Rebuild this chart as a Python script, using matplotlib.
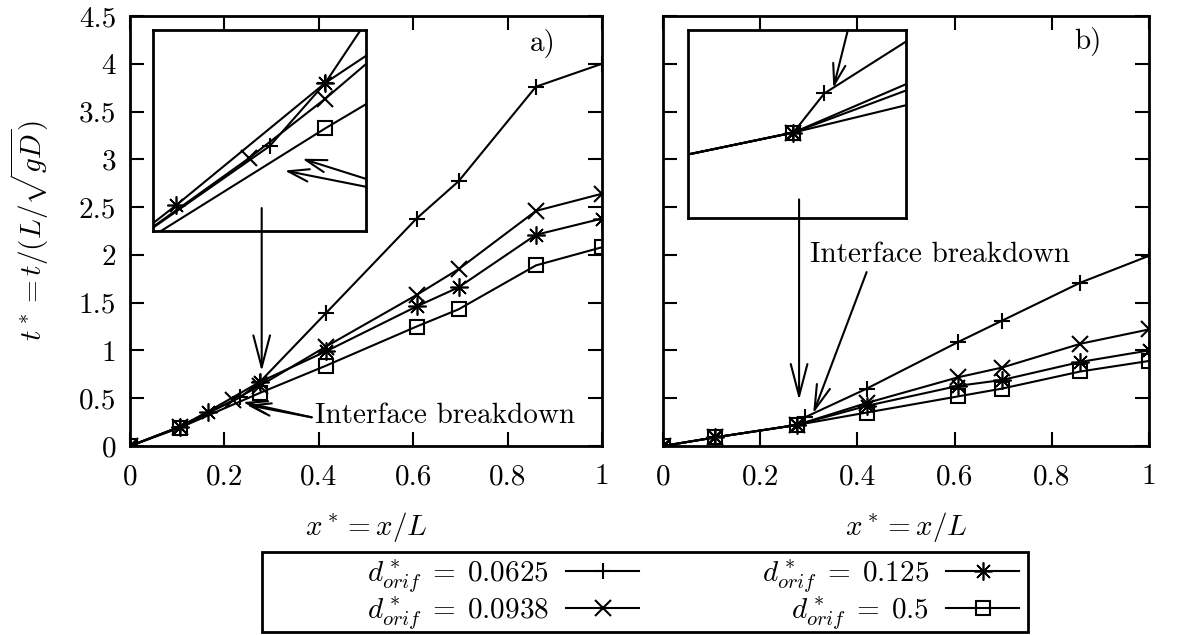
import matplotlib
matplotlib.use("Agg")
import matplotlib.pyplot as plt
from matplotlib.patches import FancyArrowPatch, Rectangle

plt.rcParams['font.family'] = ['cmr10', 'DejaVu Serif']
plt.rcParams['mathtext.fontset'] = 'cm'
plt.rcParams['axes.formatter.use_mathtext'] = True

# ---------------- data ----------------
labels = [r'$d^*_{orif}\;=\;0.0625$', r'$d^*_{orif}\;=\;0.0938$',
          r'$d^*_{orif}\;=\;0.125$', r'$d^*_{orif}\;=\;0.5$']

# panel a)
xa_plus = [0, 0.105, 0.234, 0.275, 0.415, 0.607, 0.696, 0.86, 1.0]
ya_plus = [0, 0.20, 0.51, 0.67, 1.39, 2.38, 2.77, 3.76, 4.0]
xa_cross = [0, 0.105, 0.219, 0.275, 0.415, 0.607, 0.696, 0.86, 1.0]
ya_cross = [0, 0.20, 0.48, 0.63, 1.04, 1.58, 1.85, 2.46, 2.64]
xa_star = [0, 0.105, 0.165, 0.275, 0.415, 0.607, 0.696, 0.86, 1.0]
ya_star = [0, 0.20, 0.36, 0.67, 0.99, 1.46, 1.66, 2.21, 2.38]
xa_sq = [0, 0.105, 0.275, 0.415, 0.607, 0.696, 0.86, 1.0]
ya_sq = [0, 0.19, 0.555, 0.84, 1.25, 1.43, 1.89, 2.08]

# panel b)
xb_plus = [0, 0.107, 0.275, 0.292, 0.419, 0.608, 0.697, 0.859, 1.0]
yb_plus = [0, 0.09, 0.22, 0.30, 0.60, 1.09, 1.31, 1.71, 1.99]
xb = [0, 0.107, 0.275, 0.419, 0.608, 0.697, 0.859, 1.0]
yb_cross = [0, 0.09, 0.22, 0.45, 0.72, 0.82, 1.07, 1.22]
yb_star = [0, 0.09, 0.22, 0.42, 0.63, 0.69, 0.88, 1.00]
yb_sq = [0, 0.09, 0.22, 0.35, 0.52, 0.60, 0.78, 0.89]

xticks = [0, 0.2, 0.4, 0.6, 0.8, 1]
xticklabels = ['0', '0.2', '0.4', '0.6', '0.8', '1']
yticks = [0, 0.5, 1, 1.5, 2, 2.5, 3, 3.5, 4, 4.5]
yticklabels = ['0', '0.5', '1', '1.5', '2', '2.5', '3', '3.5', '4', '4.5']

markers = ['+', 'x', (8, 2, 0), 's']
msizes = [12, 11, 13, 10]
mews = [1.5, 1.5, 1.2, 1.5]

W, H = 1184, 635
fig = plt.figure(figsize=(W / 100, H / 100), dpi=100)

def fb(x0, y0, x1, y1):
    return [x0 / W, 1 - y1 / H, (x1 - x0) / W, (y1 - y0) / H]

axa = fig.add_axes(fb(130, 16, 602, 446))
axb = fig.add_axes(fb(663, 16, 1149, 446))
insa = fig.add_axes(fb(153, 30, 366, 231))
insb = fig.add_axes(fb(688, 30, 906, 218))

FS = 21
style = dict(color='black', lw=1.5, markerfacecolor='none')

series_a = [(xa_plus, ya_plus), (xa_cross, ya_cross), (xa_star, ya_star), (xa_sq, ya_sq)]
series_b = [(xb_plus, yb_plus), (xb, yb_cross), (xb, yb_star), (xb, yb_sq)]

handles = []
for ax, series in [(axa, series_a), (axb, series_b), (insa, series_a), (insb, series_b)]:
    for (xs, ys), m, ms, mw, lab in zip(series, markers, msizes, mews, labels):
        h, = ax.plot(xs, ys, marker=m, markersize=ms, markeredgewidth=mw,
                     label=lab, **style)
        if ax is axa:
            handles.append(h)

for ax in (axa, axb):
    ax.set_xlim(0, 1)
    ax.set_ylim(0, 4.5)
    ax.set_xticks(xticks)
    ax.set_xticklabels(xticklabels, fontsize=FS)
    ax.set_yticks(yticks)
    ax.tick_params(direction='in', length=10, width=1.5, top=True, right=True,
                   labelsize=FS)
    ax.tick_params(axis='x', pad=13)
    ax.tick_params(axis='y', pad=10)
    for s in ax.spines.values():
        s.set_linewidth(2)
    ax.set_xlabel(r'$x^* = x/L$', fontsize=FS, labelpad=14)

axa.set_yticklabels(yticklabels, fontsize=FS)
axb.set_yticklabels([])
axa.set_ylabel(r'$t^* = t/(L/\sqrt{gD})$', fontsize=FS, labelpad=20)

insa.set_xlim(0.148, 0.305)
insa.set_ylim(0.295, 0.804)
insb.set_xlim(0.217, 0.337)
insb.set_ylim(0.045, 0.43)
for ax in (insa, insb):
    ax.set_xticks([])
    ax.set_yticks([])
    for s in ax.spines.values():
        s.set_linewidth(2)

axa.text(0.875, 4.21, 'a)', fontsize=FS, ha='center', va='center')
axb.text(0.874, 4.23, 'b)', fontsize=FS, ha='center', va='center')
axa.text(0.392, 0.32, 'Interface breakdown', fontsize=FS, ha='left', va='center')
axb.text(0.302, 2.0, 'Interface breakdown', fontsize=FS, ha='left', va='center')

def arrow(ax, p0, p1, hl=2.3, hw=0.6):
    a = FancyArrowPatch(p0, p1, transform=ax.transData,
                        arrowstyle=f'->,head_length={hl},head_width={hw}',
                        mutation_scale=10, lw=1.5, color='black',
                        shrinkA=0, shrinkB=0, zorder=10)
    fig.add_artist(a)

arrow(axa, (0.279, 2.49), (0.279, 0.78))
arrow(axa, (0.385, 0.30), (0.239, 0.46), 1.5, 0.45)
arrow(axa, (0.385, 0.30), (0.247, 0.43), 1.5, 0.45)
arrow(insa, (0.305, 0.427), (0.258, 0.478), 1.5, 0.45)
arrow(insa, (0.305, 0.407), (0.245, 0.448), 1.5, 0.45)
arrow(axb, (0.28, 2.58), (0.28, 0.48))
arrow(axb, (0.419, 1.82), (0.309, 0.34), 1.8, 0.5)
arrow(insb, (0.305, 0.43), (0.297, 0.311), 1.5, 0.45)

# legend box (gnuplot-style key)
fig.add_artist(Rectangle((262 / W, 1 - 632 / H), (1028 - 262) / W, (632 - 552) / H,
                         transform=fig.transFigure, fill=False, lw=2, ec='black'))
leg = fig.legend(handles=handles, loc='center', bbox_to_anchor=(693 / W, 1 - 595 / H),
                 ncol=2, fontsize=FS, markerfirst=False, frameon=False,
                 handlelength=2.5, columnspacing=4.2,
                 labelspacing=0.0, handletextpad=0.6, borderpad=0.0)

fig.savefig('out.png', dpi=100)
